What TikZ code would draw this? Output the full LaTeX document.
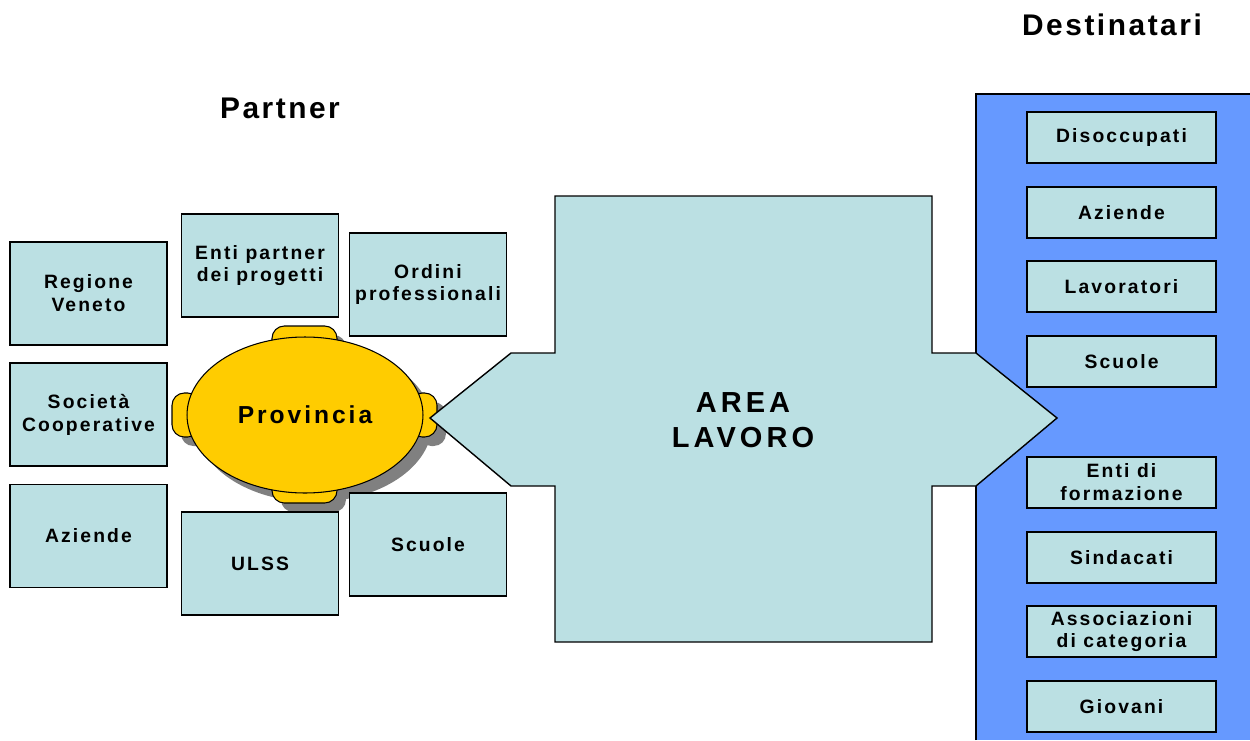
\documentclass[tikz,border=0pt]{standalone}
\usepackage{fontspec}
\setmainfont{Liberation Sans}[LetterSpace=11]
\usetikzlibrary{shapes.geometric}
\definecolor{boxblue}{HTML}{BBE0E3}
\definecolor{provyellow}{HTML}{FFCC00}
\definecolor{panelblue}{HTML}{6699FF}
\definecolor{shadowgrey}{HTML}{808080}
\tikzset{
	partner/.style={draw,fill=boxblue,line width=0.8pt,minimum width=3.14cm,minimum height=2.06cm,align=center,inner sep=1pt,font=\fontsize{11}{13}\selectfont\bfseries},
	dest/.style={partner,minimum width=3.78cm,minimum height=1.02cm},
	heading/.style={font=\fontsize{17}{20}\selectfont\bfseries\addfontfeature{LetterSpace=8.5}},
	tab/.style={rounded corners=7pt,line width=0.6pt}
}
\begin{document}
\begin{tikzpicture}[x=0.02cm,y=-0.02cm]
			\useasboundingbox(0,0)rectangle(1250,740);
			\fill[panelblue](976,94)rectangle(1250,740);
			\draw[line width=0.8pt](976,740)--(976,94)--(1250,94);
			\begin{scope}[shift={(9,9)}]
				\fill[shadowgrey](305,415)ellipse[x radius=118,y radius=78];
				\fill[shadowgrey,tab](272,326)rectangle(337,352);
				\fill[shadowgrey,tab](272,478)rectangle(337,503);
				\fill[shadowgrey,tab](172,393)rectangle(200,437);
				\fill[shadowgrey,tab](410,393)rectangle(437,437);
			\end{scope}
			\filldraw[fill=provyellow,tab](272,326)rectangle(337,352);
			\filldraw[fill=provyellow,tab](272,478)rectangle(337,503);
			\filldraw[fill=provyellow,tab](172,393)rectangle(200,437);
			\filldraw[fill=provyellow,tab](410,393)rectangle(437,437);
			\node[ellipse,draw,fill=provyellow,line width=0.6pt,minimum width=4.72cm,minimum height=3.12cm,font=\fontsize{14}{16}\selectfont\bfseries\addfontfeature{LetterSpace=12}](prov)at(305,415){Provincia};
			\filldraw[fill=boxblue,line width=0.8pt](430,418)--(511,353)--(555,353)--(555,196)--(932,196)--(932,353)--(976,353)--(1057,418)--(976,486)--(932,486)--(932,642)--(555,642)--(555,486)--(511,486)--cycle;
			\node[align=center,font=\fontsize{16.5}{20}\selectfont\bfseries\addfontfeature{LetterSpace=14}](area)at(743,420){AREA\\LAVORO};
			\node[heading](partnertitle)at(280,108){Partner};
			\node[heading](desttitle)at(1112,25){Destinatari};
			\node[partner](regione)at(88.5,293.5){Regione\\Veneto};
			\node[partner](societa)at(88.5,414.5){Società\\Cooperative};
			\node[partner](aziendep)at(88.5,536){Aziende};
			\node[partner](enti)at(260,265.5){Enti partner\\dei progetti};
			\node[partner](ulss)at(260,563.5){ULSS};
			\node[partner](ordini)at(428,284.5){Ordini\\professionali};
			\node[partner](scuolep)at(428,544.5){Scuole};
			\node[dest](disoccupati)at(1121.5,137.5){Disoccupati};
			\node[dest](aziended)at(1121.5,212.5){Aziende};
			\node[dest](lavoratori)at(1121.5,286.5){Lavoratori};
			\node[dest](scuoled)at(1121.5,361.5){Scuole};
			\node[dest](formazione)at(1121.5,482.5){Enti di\\formazione};
			\node[dest](sindacati)at(1121.5,557.5){Sindacati};
			\node[dest](associazioni)at(1121.5,631.5){Associazioni\\di categoria};
			\node[dest](giovani)at(1121.5,706.5){Giovani};
\end{tikzpicture}
\end{document}
